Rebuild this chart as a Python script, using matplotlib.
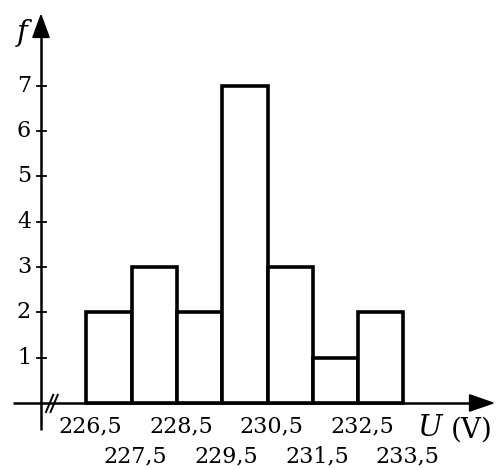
import matplotlib
matplotlib.use("Agg")
import matplotlib.pyplot as plt
from matplotlib.patches import Polygon

# data
edges = [226.5, 227.5, 228.5, 229.5, 230.5, 231.5, 232.5, 233.5]
freq = [2, 3, 2, 7, 3, 1, 2]
edge_labels = ["226,5", "227,5", "228,5", "229,5", "230,5", "231,5", "232,5", "233,5"]
y_ticks = [1, 2, 3, 4, 5, 6, 7]

fig = plt.figure(figsize=(4.99, 4.70), dpi=100)
ax = fig.add_axes([0, 0, 1, 1])
x0 = 225.5  # position of the y axis (axis break)
ax.set_xlim(224.595, 235.61)
ax.set_ylim(-1.479, 8.896)
ax.axis("off")

font = "DejaVu Serif"

# bars
widths = [edges[i + 1] - edges[i] for i in range(len(freq))]
ax.bar(edges[:-1], freq, width=widths, align="edge", facecolor="white",
       edgecolor="black", linewidth=2.6, zorder=2)

# axes lines
ax.plot([224.88, 235.0], [0, 0], color="black", lw=1.8, zorder=3, solid_capstyle="butt")
ax.plot([x0, x0], [-0.6, 8.1], color="black", lw=1.8, zorder=3, solid_capstyle="butt")

# arrow heads
ax.add_patch(Polygon([[235.48, 0], [234.96, 0.18], [234.96, -0.18]], closed=True,
                     color="black", zorder=4))
ax.add_patch(Polygon([[x0, 8.56], [x0 - 0.18, 8.07], [x0 + 0.18, 8.07]], closed=True,
                     color="black", zorder=4))

# y ticks
for t in y_ticks:
    ax.plot([x0 - 0.09, x0 + 0.11], [t, t], color="black", lw=1.3, zorder=3)
    ax.text(x0 - 0.22, t, str(t), ha="right", va="center", fontsize=16, family=font)

# x labels alternating rows
for i, (e, lab) in enumerate(zip(edges, edge_labels)):
    y = -0.51 if i % 2 == 0 else -1.19
    ax.text(e + 0.09, y, lab, ha="center", va="center", fontsize=16, family=font)

# axis break marks
for dx in (0, 0.1):
    ax.plot([225.61 + dx, 225.77 + dx], [-0.2, 0.18], color="black", lw=1.4, zorder=4)

# axis titles
ax.text(x0 - 0.42, 8.17, "f", ha="center", va="center", fontsize=21,
        family=font, style="italic")
ax.text(234.08, -0.56, "U", ha="center", va="center", fontsize=21,
        family=font, style="italic")
ax.text(235.0, -0.6, "(V)", ha="center", va="center", fontsize=20, family=font)

fig.savefig("out.png", dpi=100)
